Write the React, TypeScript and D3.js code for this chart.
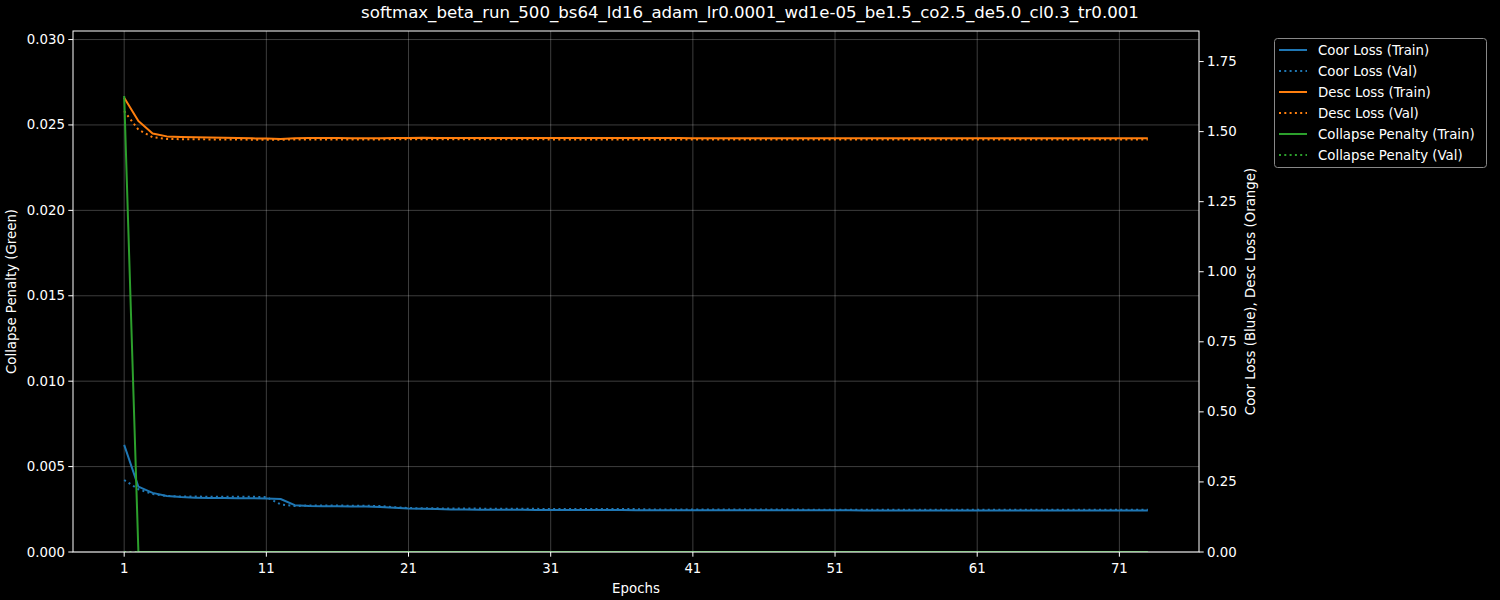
import React, { useEffect, useRef } from "react";
import * as d3 from "d3";

const TITLE = "softmax_beta_run_500_bs64_ld16_adam_lr0.0001_wd1e-05_be1.5_co2.5_de5.0_cl0.3_tr0.001";

const epochs: number[] = Array.from({ length: 73 }, (_, i) => i + 1);

const coorTrain: number[] = [
  0.382, 0.233, 0.211, 0.200, 0.196, 0.194, 0.193, 0.193, 0.192, 0.192,
  0.191, 0.189, 0.167, 0.164, 0.163, 0.163, 0.162, 0.162, 0.161, 0.158,
  0.155, 0.154, 0.153, 0.152, 0.152, 0.151, 0.151, 0.151, 0.151, 0.150,
  0.150, 0.150, 0.150, 0.150, 0.150, 0.150, 0.149, 0.149, 0.149, 0.149,
  0.149, 0.149, 0.149, 0.149, 0.149, 0.149, 0.149, 0.149, 0.149, 0.149,
  0.149, 0.149, 0.148, 0.148, 0.148, 0.148, 0.148, 0.148, 0.148, 0.148,
  0.148, 0.148, 0.148, 0.148, 0.148, 0.148, 0.148, 0.148, 0.148, 0.148,
  0.148, 0.148, 0.148,
];

const coorVal: number[] = [
  0.257, 0.224, 0.207, 0.200, 0.198, 0.198, 0.197, 0.197, 0.197, 0.197,
  0.196, 0.170, 0.164, 0.166, 0.166, 0.166, 0.165, 0.165, 0.164, 0.160,
  0.157, 0.156, 0.156, 0.155, 0.155, 0.155, 0.154, 0.154, 0.154, 0.154,
  0.153, 0.153, 0.153, 0.153, 0.153, 0.153, 0.153, 0.152, 0.152, 0.152,
  0.152, 0.152, 0.152, 0.152, 0.152, 0.152, 0.152, 0.152, 0.151, 0.151,
  0.151, 0.151, 0.151, 0.151, 0.151, 0.151, 0.151, 0.151, 0.151, 0.151,
  0.151, 0.151, 0.151, 0.151, 0.151, 0.151, 0.151, 0.151, 0.151, 0.151,
  0.151, 0.151, 0.151,
];

const descTrain: number[] = [
  1.621, 1.538, 1.493, 1.483, 1.481, 1.480, 1.479, 1.478, 1.477, 1.476,
  1.475, 1.474, 1.476, 1.477, 1.477, 1.477, 1.476, 1.476, 1.476, 1.477,
  1.477, 1.478, 1.477, 1.477, 1.477, 1.477, 1.477, 1.477, 1.477, 1.477,
  1.477, 1.477, 1.477, 1.477, 1.477, 1.477, 1.477, 1.477, 1.477, 1.477,
  1.476, 1.476, 1.476, 1.476, 1.476, 1.476, 1.476, 1.476, 1.476, 1.476,
  1.476, 1.476, 1.476, 1.476, 1.476, 1.476, 1.476, 1.476, 1.476, 1.476,
  1.476, 1.476, 1.476, 1.476, 1.476, 1.476, 1.476, 1.476, 1.476, 1.476,
  1.476, 1.476, 1.476,
];

const descVal: number[] = [
  1.573, 1.507, 1.480, 1.474, 1.473, 1.473, 1.472, 1.472, 1.472, 1.471,
  1.471, 1.471, 1.472, 1.472, 1.472, 1.472, 1.472, 1.472, 1.472, 1.473,
  1.473, 1.473, 1.473, 1.473, 1.473, 1.473, 1.473, 1.473, 1.473, 1.473,
  1.472, 1.472, 1.472, 1.472, 1.472, 1.472, 1.472, 1.472, 1.472, 1.472,
  1.472, 1.472, 1.472, 1.472, 1.472, 1.472, 1.472, 1.472, 1.472, 1.472,
  1.472, 1.472, 1.472, 1.472, 1.472, 1.472, 1.472, 1.472, 1.472, 1.472,
  1.472, 1.472, 1.472, 1.472, 1.472, 1.472, 1.472, 1.472, 1.472, 1.472,
  1.472, 1.472, 1.472,
];

const collapseTrain: number[] = [
  0.0267, 0, 0, 0, 0, 0, 0, 0, 0, 0, 0, 0, 0, 0, 0, 0, 0, 0, 0, 0,
  0, 0, 0, 0, 0, 0, 0, 0, 0, 0, 0, 0, 0, 0, 0, 0, 0, 0, 0, 0,
  0, 0, 0, 0, 0, 0, 0, 0, 0, 0, 0, 0, 0, 0, 0, 0, 0, 0, 0, 0,
  0, 0, 0, 0, 0, 0, 0, 0, 0, 0, 0, 0, 0,
];

const collapseVal: number[] = [
  0, 0, 0, 0, 0, 0, 0, 0, 0, 0, 0, 0, 0, 0, 0, 0, 0, 0, 0, 0,
  0, 0, 0, 0, 0, 0, 0, 0, 0, 0, 0, 0, 0, 0, 0, 0, 0, 0, 0, 0,
  0, 0, 0, 0, 0, 0, 0, 0, 0, 0, 0, 0, 0, 0, 0, 0, 0, 0, 0, 0,
  0, 0, 0, 0, 0, 0, 0, 0, 0, 0, 0, 0, 0,
];

const xTicks: number[] = [1, 11, 21, 31, 41, 51, 61, 71];
const leftTicks: number[] = [0, 0.005, 0.01, 0.015, 0.02, 0.025, 0.03];
const rightTicks: number[] = [0, 0.25, 0.5, 0.75, 1.0, 1.25, 1.5, 1.75];

const BLUE = "#1f77b4";
const ORANGE = "#ff7f0e";
const GREEN = "#2ca02c";
const FONT = "DejaVu Sans, sans-serif";

export default function App() {
  const ref = useRef<SVGSVGElement | null>(null);

  useEffect(() => {
    const svg = d3.select(ref.current);
    svg.selectAll("*").remove();

    const L = 73, R = 1199, T = 31, B = 552;
    const x = d3.scaleLinear().domain([-2.6, 76.6]).range([L, R]);
    const yL = d3.scaleLinear().domain([0, 0.0305]).range([B, T]);
    const yR = d3.scaleLinear().domain([0, 1.859]).range([B, T]);

    svg.append("rect").attr("x", 0).attr("y", 0).attr("width", 1500).attr("height", 600).attr("fill", "#000");

    // grid
    const grid = svg.append("g").attr("stroke", "#ffffff").attr("stroke-opacity", 0.3).attr("stroke-width", 0.8);
    xTicks.forEach((t) => {
      grid.append("line").attr("x1", x(t)).attr("x2", x(t)).attr("y1", T).attr("y2", B);
    });
    leftTicks.forEach((t) => {
      grid.append("line").attr("x1", L).attr("x2", R).attr("y1", yL(t)).attr("y2", yL(t));
    });

    const clip = svg.append("defs").append("clipPath").attr("id", "plotclip");
    clip.append("rect").attr("x", L).attr("y", T).attr("width", R - L).attr("height", B - T);
    const plot = svg.append("g").attr("clip-path", "url(#plotclip)");

    const drawLine = (vals: number[], scale: d3.ScaleLinear<number, number>, color: string, dotted: boolean) => {
      const line = d3.line<number>().x((_, i) => x(epochs[i])).y((d) => scale(d));
      const p = plot.append("path").datum(vals).attr("d", line).attr("fill", "none")
        .attr("stroke", color).attr("stroke-width", 2);
      if (dotted) p.attr("stroke-dasharray", "2,3.3");
      else p.attr("stroke-linejoin", "round").attr("stroke-linecap", "butt");
    };

    drawLine(coorTrain, yR, BLUE, false);
    drawLine(coorVal, yR, BLUE, true);
    drawLine(descTrain, yR, ORANGE, false);
    drawLine(descVal, yR, ORANGE, true);
    drawLine(collapseTrain, yL, GREEN, false);
    drawLine(collapseVal, yL, GREEN, true);

    // spines
    const sp = svg.append("g").attr("stroke", "#fff").attr("stroke-width", 1).attr("fill", "none");
    sp.append("rect").attr("x", L).attr("y", T).attr("width", R - L).attr("height", B - T);

    const text = (g: any, xx: number, yy: number, s: string, anchor: string, size = 13.33) =>
      g.append("text").attr("x", xx).attr("y", yy).attr("fill", "#fff").attr("font-family", FONT)
        .attr("font-size", size).attr("text-anchor", anchor).attr("dominant-baseline", "central").text(s);

    const axes = svg.append("g");
    xTicks.forEach((t) => {
      axes.append("line").attr("x1", x(t)).attr("x2", x(t)).attr("y1", B).attr("y2", B + 4.7).attr("stroke", "#fff");
      text(axes, x(t), B + 16, String(t), "middle");
    });
    leftTicks.forEach((t) => {
      axes.append("line").attr("x1", L - 4.7).attr("x2", L).attr("y1", yL(t)).attr("y2", yL(t)).attr("stroke", "#fff");
      text(axes, L - 8, yL(t), d3.format(".3f")(t), "end");
    });
    rightTicks.forEach((t) => {
      axes.append("line").attr("x1", R).attr("x2", R + 4.7).attr("y1", yR(t)).attr("y2", yR(t)).attr("stroke", "#fff");
      text(axes, R + 8, yR(t), d3.format(".2f")(t), "start");
    });

    text(axes, (L + R) / 2, 588, "Epochs", "middle");
    text(axes, 750, 12, TITLE, "middle", 16.6);
    text(axes, 0, 0, "Collapse Penalty (Green)", "middle").attr("transform", `translate(11,${(T + B) / 2}) rotate(-90)`);
    text(axes, 0, 0, "Coor Loss (Blue), Desc Loss (Orange)", "middle").attr("transform", `translate(1250,${(T + B) / 2}) rotate(-90)`);

    // legend
    const lg = svg.append("g");
    lg.append("rect").attr("x", 1274.5).attr("y", 38.5).attr("width", 212).attr("height", 129).attr("rx", 3)
      .attr("fill", "#000").attr("stroke", "#888").attr("stroke-width", 1);
    const items: [string, string, boolean][] = [
      ["Coor Loss (Train)", BLUE, false],
      ["Coor Loss (Val)", BLUE, true],
      ["Desc Loss (Train)", ORANGE, false],
      ["Desc Loss (Val)", ORANGE, true],
      ["Collapse Penalty (Train)", GREEN, false],
      ["Collapse Penalty (Val)", GREEN, true],
    ];
    items.forEach(([name, c, dotted], i) => {
      const yy = 50 + i * 21;
      const l = lg.append("line").attr("x1", 1279).attr("x2", 1307).attr("y1", yy).attr("y2", yy)
        .attr("stroke", c).attr("stroke-width", 2);
      if (dotted) l.attr("stroke-dasharray", "2,3.3");
      text(lg, 1318, yy, name, "start");
    });
  }, []);

  return (
    <div style={{ position: "absolute", left: 0, top: 0 }}>
      <svg ref={ref} width={1500} height={600} style={{ display: "block" }} />
    </div>
  );
}
